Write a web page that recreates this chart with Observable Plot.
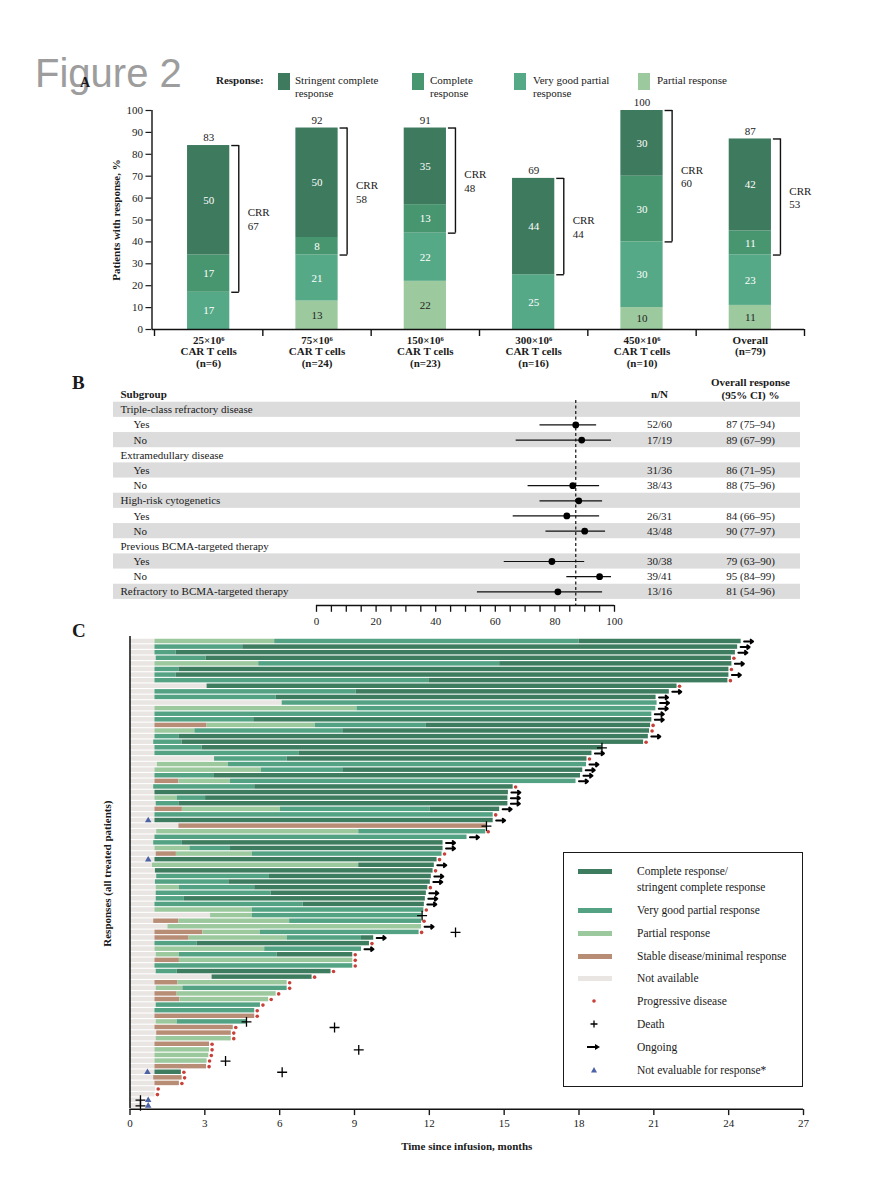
<!DOCTYPE html>
<html><head><meta charset="utf-8">
<script src="https://cdn.jsdelivr.net/npm/d3@7"></script>
<script src="https://cdn.jsdelivr.net/npm/@observablehq/plot@0.6"></script>
<style>
body{margin:0;background:#fff;}
#page{position:relative;width:886px;height:1200px;font-family:"Liberation Serif",serif;color:#1a1a1a;overflow:hidden;}
.abs{position:absolute;white-space:nowrap;}
.sw{position:absolute;}
.lg{position:absolute;font-size:11px;line-height:13px;white-space:nowrap;}
.lc{position:absolute;font-size:11.5px;white-space:nowrap;line-height:14px;}
</style></head><body><div id="page"></div>
<script>
// ---------------- Panel A data ----------------
const doseGroups = ["25×10⁶\nCAR T cells\n(n=6)","75×10⁶\nCAR T cells\n(n=24)","150×10⁶\nCAR T cells\n(n=23)","300×10⁶\nCAR T cells\n(n=16)","450×10⁶\nCAR T cells\n(n=10)","Overall\n(n=79)"];
const responseKeys = ["PR","VGPR","CR","sCR"];
const responseNames = ["Partial response","Very good partial response","Complete response","Stringent complete response"];
const prPct   = [0,13,22,0,10,11];
const vgprPct = [17,21,22,25,30,23];
const crPct   = [17,8,13,0,30,11];
const scrPct  = [50,50,35,44,30,42];
const totalPct = [83,92,91,69,100,87];
const crrPct  = [67,58,48,44,60,53];
const colorA = {PR:"#9dc99e", VGPR:"#55a987", CR:"#47966f", sCR:"#3d7a5e"};

// ---------------- Panel B data ----------------
const subgroupLabels = ["Triple-class refractory disease","Yes","No","Extramedullary disease","Yes","No","High-risk cytogenetics","Yes","No","Previous BCMA-targeted therapy","Yes","No","Refractory to BCMA-targeted therapy"];
const subgroupIsHeader = [1,0,0,1,0,0,1,0,0,1,0,0,1];
const nOverN = ["","52/60","17/19","","31/36","38/43","","26/31","43/48","","30/38","39/41","13/16"];
const orText = ["","87 (75–94)","89 (67–99)","","86 (71–95)","88 (75–96)","","84 (66–95)","90 (77–97)","","79 (63–90)","95 (84–99)","81 (54–96)"];
// estimates as drawn in the figure (row index where each point appears)
const estRow = [1,2,5,6,7,8,10,11,12];
const estVal = [87,89,86,88,84,90,79,95,81];
const ciLow  = [75,67,71,75,66,77,63,84,54];
const ciHigh = [94,99,95,96,95,97,90,99,96];
const overallORR = 87;
const forestTicks = d3.range(0,101,5);
const forestLabels = [0,20,40,60,80,100];

// ---------------- Panel C data ----------------
// each row: status, cumulative end (months), status, end, ...
const swimmer = [
["NA",1.0,"PR",5.8,"VGPR",18.0,"CR",24.5],
["NA",1.0,"VGPR",4.52,"CR",24.36],
["NA",1.0,"VGPR",1.85,"CR",24.27],
["NA",1.05,"VGPR",3.05,"CR",24.11],
["NA",1.0,"PR",5.16,"VGPR",14.82,"CR",24.13],
["NA",1.0,"VGPR",1.96,"CR",24.01],
["NA",1.0,"VGPR",1.85,"CR",24.01],
["NA",1.0,"VGPR",11.98,"CR",23.97],
["NA",3.09,"CR",21.93],
["NA",1.0,"VGPR",9.07,"CR",21.62],
["NA",1.0,"VGPR",5.86,"CR",21.09],
["NA",6.1,"VGPR",21.13],
["NA",1.0,"PR",9.1,"VGPR",21.08],
["NA",1.0,"VGPR",20.92],
["NA",1.0,"VGPR",4.96,"CR",20.92],
["NA",1.0,"SD",3.09,"PR",7.43,"VGPR",11.88,"CR",20.87],
["NA",1.0,"PR",2.6,"VGPR",8.53,"CR",20.83],
["NA",1.0,"VGPR",1.96,"CR",20.78],
["NA",0.95,"VGPR",2.09,"CR",20.59],
["NA",1.0,"VGPR",2.89,"CR",18.92],
["NA",1.0,"VGPR",6.77,"CR",18.52],
["NA",3.39,"VGPR",6.3,"CR",18.32],
["NA",1.1,"PR",3.94,"VGPR",18.3],
["NA",1.0,"PR",5.26,"VGPR",8.53,"CR",18.15],
["NA",1.0,"VGPR",3.36,"CR",18.06],
["NA",1.0,"SD",1.96,"PR",4.03,"VGPR",17.88],
["NA",0.95,"VGPR",5.0,"CR",15.36],
["NA",1.0,"CR",15.17],
["NA",1.0,"PR",1.89,"VGPR",3.03,"CR",15.15],
["NA",1.05,"VGPR",1.96,"CR",15.15],
["NA",1.0,"SD",2.1,"PR",6.03,"VGPR",12.04,"CR",14.82],
["NA",1.0,"VGPR",14.56],
["NA",1.0,"CR",14.56],
["NA",1.96,"SD",14.29],
["NA",1.07,"PR",9.17,"VGPR",14.26],
["NA",1.0,"VGPR",13.51],
["NA",0.95,"VGPR",2.1,"CR",12.55],
["NA",1.0,"PR",2.4,"VGPR",4.03,"CR",12.55],
["NA",1.05,"SD",1.86,"PR",4.9,"VGPR",12.51],
["NA",1.0,"CR",12.31],
["NA",0.9,"PR",9.17,"CR",12.2],
["NA",1.02,"CR",12.15],
["NA",1.07,"VGPR",5.59,"CR",12.08],
["NA",1.02,"VGPR",3.96,"CR",12.04],
["NA",1.05,"PR",1.98,"VGPR",5.0,"CR",11.94],
["NA",1.05,"VGPR",5.66,"CR",11.88],
["NA",1.05,"VGPR",2.18,"CR",11.84],
["NA",1.0,"VGPR",6.94,"CR",11.8],
["NA",1.0,"PR",4.9,"VGPR",11.78],
["NA",3.23,"PR",4.9,"VGPR",11.71],
["NA",0.95,"SD",1.96,"PR",6.4,"VGPR",11.69],
["NA",1.52,"PR",11.69],
["NA",1.0,"SD",2.92,"PR",5.23,"VGPR",11.59],
["NA",1.0,"SD",2.37,"PR",6.3,"VGPR",9.28,"CR",9.77],
["NA",1.0,"VGPR",2.69,"CR",9.6],
["NA",1.0,"PR",5.4,"VGPR",9.28],
["NA",1.05,"PR",1.98,"VGPR",5.9,"CR",8.93],
["NA",1.0,"SD",1.98,"PR",8.93],
["NA",1.0,"VGPR",8.93],
["NA",1.05,"VGPR",1.89,"CR",8.06],
["NA",3.29,"CR",7.3],
["NA",1.0,"SD",1.92,"PR",6.3],
["NA",1.05,"PR",2.12,"VGPR",6.3],
["NA",1.0,"SD",1.89,"PR",5.86],
["NA",1.0,"SD",2.0,"PR",5.56],
["NA",1.05,"VGPR",5.23],
["NA",1.0,"VGPR",5.0],
["NA",1.0,"SD",5.0],
["NA",1.05,"PR",1.89,"VGPR",4.67],
["NA",1.0,"SD",4.14],
["NA",1.07,"SD",4.06],
["NA",1.05,"PR",4.06],
["NA",1.0,"SD",3.19],
["NA",1.0,"PR",3.19],
["NA",1.0,"PR",3.16],
["NA",1.0,"PR",3.09],
["NA",1.0,"SD",3.07],
["NA",1.0,"CR",2.06],
["NA",0.95,"SD",2.09],
["NA",1.0,"SD",1.98],
["NA",1.03],
["NA",1.0],
["NA",0.45],
["NA",0.45]
];
// end-of-bar marker per row: ON ongoing, PD progressive disease, D death, "" none
const endMarker = ["ON","ON","ON","PD","ON","PD","ON","PD","PD","ON","ON","ON","ON","ON","ON","PD","PD","ON","PD","D",
"ON","PD","ON","ON","ON","ON","PD","ON","ON","ON","ON","PD","ON","D","PD","ON","ON","ON","PD","PD",
"ON","PD","ON","ON","PD","ON","ON","ON","PD","D","PD","ON","PD","ON","PD","ON","PD","PD","PD","PD",
"PD","PD","PD","PD","PD","PD","PD","PD","D","PD","PD","PD","PD","PD","PD","PD","PD","PD","PD","PD",
"PD","PD","",""];
const deathRows  = [52,69,73,75,77,82,83];
const deathTimes = [13.05,8.2,9.17,3.83,6.1,0.42,0.42];
const neRows  = [32,39,77,82,83];
const neTimes = [0.73,0.73,0.7,0.73,0.73];
const colorC = {CR:"#3e7c5f", VGPR:"#52a283", PR:"#9cc89e", SD:"#b78d76", NA:"#e8e5e2"};
const monthTicks = d3.range(0,28,3);

const page = document.getElementById("page");
function addHTML(html){ page.insertAdjacentHTML("beforeend", html); }
const baseStyle = {fontFamily:"Liberation Serif, serif", fontSize:"11px", color:"#1a1a1a", background:"none", overflow:"visible"};

// ---------------- Panel A ----------------
const pctArrays = {PR:prPct, VGPR:vgprPct, CR:crPct, sCR:scrPct};
const segsA = [];
doseGroups.forEach((g,i)=>{
  let acc = 0;
  responseKeys.forEach(k=>{
    const v = pctArrays[k][i];
    segsA.push({g:i, key:k, value:v, y1:acc, y2:acc+v});
    acc += v;
  });
});
const topsA = doseGroups.map((g,i)=>({g:i, top: responseKeys.reduce((s,k)=>s+pctArrays[k][i],0), label: totalPct[i], crr: crrPct[i]}));
const brA = topsA.map(d=>({g:d.g, hi:d.top, lo:d.top-d.crr, crr:d.crr}));

const plotA = Plot.plot({
  width:886, height:280, marginLeft:154, marginRight:82, marginTop:20, marginBottom:41,
  style: baseStyle,
  x:{domain:[0,6], axis:null},
  y:{domain:[0,100]},
  marks:[
    Plot.rect(segsA.filter(d=>d.value>0), {x1:d=>d.g+0.305, x2:d=>d.g+0.695, y1:"y1", y2:"y2", fill:d=>colorA[d.key]}),
    Plot.text(segsA.filter(d=>d.value>0), {x:d=>d.g+0.5, y:d=>(d.y1+d.y2)/2, text:d=>String(d.value), fill:d=>d.key==="PR"?"#222":"#fff", fontSize:11}),
    Plot.text(topsA, {x:d=>d.g+0.5, y:"top", dy:-8, text:d=>String(d.label), fontSize:11}),
    Plot.ruleX(brA, {x:d=>d.g+0.778, y1:"lo", y2:"hi", stroke:"#111", strokeWidth:1.4}),
    Plot.ruleY(brA, {x1:d=>d.g+0.713, x2:d=>d.g+0.783, y:"hi", stroke:"#111", strokeWidth:1.4}),
    Plot.ruleY(brA, {x1:d=>d.g+0.713, x2:d=>d.g+0.783, y:"lo", stroke:"#111", strokeWidth:1.4}),
    Plot.text(brA, {x:d=>d.g+0.86, y:d=>(d.lo+d.hi)/2, text:d=>"CRR\n"+d.crr, textAnchor:"start", lineHeight:1.25, fontSize:11}),
    Plot.ruleX([0], {y1:0, y2:100, dx:-2.5, stroke:"#111", strokeWidth:1.4}),
    Plot.axisY({ticks:d3.range(0,101,10), tickSize:6, tickPadding:3, dx:-2.5, label:null, fontSize:11, strokeWidth:1.2}),
    Plot.ruleY([0], {x1:-0.02, x2:6, stroke:"#111", strokeWidth:1.6}),
    Plot.ruleX(d3.range(0,7), {x:d=>d, y1:0, y2:-3.2, stroke:"#111", strokeWidth:1.4}),
    Plot.text(doseGroups, {x:(d,i)=>i+0.5, y:()=>0, dy:6, lineAnchor:"top", lineHeight:1.05, fontWeight:"bold", fontSize:11}),
    Plot.text(["Patients with response, %"], {frameAnchor:"left", dx:-38, rotate:-90, textAnchor:"middle", fontWeight:"bold", fontSize:11})
  ]
});
plotA.style.position="absolute"; plotA.style.left="0px"; plotA.style.top="90px";
page.appendChild(plotA);

// title + legend A
addHTML(`<div class="abs" style="left:35px;top:50px;font-family:'Liberation Sans',Arial,sans-serif;font-size:40px;color:#9d9d9d;line-height:46px;">Figure 2</div>`);
addHTML(`<div class="abs" style="left:80px;top:75px;font-size:14px;font-weight:bold;">A</div>`);
addHTML(`<div class="lg" style="left:216px;top:74px;font-weight:bold;">Response:</div>`);
const legA = [["sCR",278,295,"Stringent complete<br>response"],["CR",412,430,"Complete<br>response"],["VGPR",514,533,"Very good partial<br>response"],["PR",638,657,"Partial response"]];
legA.forEach(([k,sx,tx,t])=>{
  addHTML(`<div class="sw" style="left:${sx}px;top:73px;width:12px;height:17px;background:${colorA[k]};"></div>`);
  addHTML(`<div class="lg" style="left:${tx}px;top:74px;">${t}</div>`);
});

// ---------------- Panel B ----------------
const rowsB = subgroupLabels.map((label,i)=>({i, label, header:subgroupIsHeader[i], nN:nOverN[i], or:orText[i]}));
const forest = estRow.map((r,k)=>({row:r, est:estVal[k], lo:ciLow[k], hi:ciHigh[k]}));
const plotB = Plot.plot({
  width:886, height:260, marginLeft:113, marginRight:86, marginTop:31.7, marginBottom:31.1,
  style: baseStyle,
  x:{domain:[0,100], range:[316,614], axis:null},
  y:{domain:[-0.5,12.5], reverse:true, axis:null},
  marks:[
    Plot.rect(rowsB.filter(d=>d.i%2===0), {y1:d=>d.i-0.5, y2:d=>d.i+0.5, fill:"#dcdcdc"}),
    Plot.text(rowsB.filter(d=>d.header), {y:"i", text:"label", frameAnchor:"left", dx:7, textAnchor:"start", fontSize:11}),
    Plot.text(rowsB.filter(d=>!d.header), {y:"i", text:"label", frameAnchor:"left", dx:20, textAnchor:"start", fontSize:11}),
    Plot.text(rowsB, {y:"i", text:"nN", frameAnchor:"right", dx:-141, textAnchor:"middle", fontSize:11}),
    Plot.text(rowsB, {y:"i", text:"or", frameAnchor:"right", dx:-50, textAnchor:"middle", fontSize:11}),
    Plot.ruleX([overallORR], {y1:-0.62, y2:12.9, stroke:"#111", strokeDasharray:"3,2.5", strokeWidth:1.2}),
    Plot.ruleY(forest, {x1:"lo", x2:"hi", y:"row", stroke:"#111", strokeWidth:1.2}),
    Plot.dot(forest, {x:"est", y:"row", r:3.4, fill:"#000"}),
    Plot.ruleY([12.9], {x1:0, x2:100, stroke:"#111", strokeWidth:1.6}),
    Plot.ruleX(forestTicks, {x:d=>d, y1:12.9, y2:13.35, stroke:"#111", strokeWidth:1.3}),
    Plot.text(forestLabels, {x:d=>d, y:()=>13.95, text:d=>String(d), fontSize:11}),
    Plot.text(["Subgroup"], {y:()=>-1, frameAnchor:"left", dx:7, textAnchor:"start", fontWeight:"bold", fontSize:11}),
    Plot.text(["n/N"], {y:()=>-1, frameAnchor:"right", dx:-141, textAnchor:"middle", fontWeight:"bold", fontSize:11}),
    Plot.text(["Overall response\n(95% CI) %"], {y:()=>-1, frameAnchor:"right", dx:-50, dy:-6.5, textAnchor:"middle", lineHeight:1.2, fontWeight:"bold", fontSize:11})
  ]
});
plotB.style.position="absolute"; plotB.style.left="0px"; plotB.style.top="370px";
page.appendChild(plotB);
addHTML(`<div class="abs" style="left:72px;top:372px;font-size:19px;font-weight:bold;">B</div>`);

// ---------------- Panel C ----------------
const segsC = [];
swimmer.forEach((r,row)=>{ let s=0; for(let k=0;k<r.length;k+=2){ segsC.push({row, status:r[k], start:s, end:r[k+1]}); s=r[k+1]; } });
const endsC = swimmer.map((r,row)=>({row, end:r[r.length-1], m:endMarker[row]}));
const deathsC = endsC.filter(d=>d.m==="D").map(d=>({row:d.row, t:d.end})).concat(deathRows.map((r,k)=>({row:r, t:deathTimes[k]})));
const neC = neRows.map((r,k)=>({row:r, t:neTimes[k]}));
const plotC = Plot.plot({
  width:886, height:530, marginLeft:129.5, marginRight:83, marginTop:8.2, marginBottom:51.9,
  style: baseStyle,
  x:{domain:[0,27], axis:null},
  y:{domain:[-0.5,83.5], reverse:true, axis:null},
  marks:[
    Plot.rect(segsC, {x1:"start", x2:"end", y1:d=>d.row-0.4, y2:d=>d.row+0.4, fill:d=>colorC[d.status]}),
    Plot.dot(endsC.filter(d=>d.m==="PD"), {x:d=>d.end+0.1, y:"row", r:1.8, fill:"#c9403a"}),
    Plot.arrow(endsC.filter(d=>d.m==="ON"), {x1:d=>d.end+0.12, x2:d=>d.end+0.48, y1:"row", y2:"row", stroke:"#000", strokeWidth:2, headLength:4.5, headAngle:75}),
    Plot.dot(deathsC, {x:"t", y:"row", symbol:"plus", r:3.3, stroke:"#000", strokeWidth:1.3}),
    Plot.dot(neC, {x:"t", y:"row", symbol:"triangle", r:2.4, fill:"#4b63a6"}),
    Plot.ruleX([0], {y1:-0.9, y2:83.5, stroke:"#111", strokeWidth:1.5}),
    Plot.ruleY([83.6], {stroke:"#111", strokeWidth:1.5}),
    Plot.axisX({ticks:monthTicks, tickSize:6, tickPadding:4, dy:1, label:null, fontSize:11, strokeWidth:1.4}),
    Plot.text(["Time since infusion, months"], {frameAnchor:"bottom", dy:41, fontWeight:"bold", fontSize:11}),
    Plot.text(["Responses (all treated patients)"], {frameAnchor:"left", dx:-23, rotate:-90, textAnchor:"middle", fontWeight:"bold", fontSize:11})
  ]
});
plotC.style.position="absolute"; plotC.style.left="0px"; plotC.style.top="630px";
page.appendChild(plotC);
addHTML(`<div class="abs" style="left:72px;top:620px;font-size:19px;font-weight:bold;">C</div>`);

// legend C
const legC = [
  ["bar",colorC.CR,871,"Complete response/"],
  ["none",null,887,"stringent complete response"],
  ["bar",colorC.VGPR,910,"Very good partial response"],
  ["bar",colorC.PR,933,"Partial response"],
  ["bar",colorC.SD,956,"Stable disease/minimal response"],
  ["bar",colorC.NA,978,"Not available"],
  ["pd",null,1001,"Progressive disease"],
  ["death",null,1024,"Death"],
  ["arrow",null,1047,"Ongoing"],
  ["ne",null,1070,"Not evaluable for response*"]
];
addHTML(`<div class="abs" style="left:563px;top:852px;width:238px;height:233px;border:1.5px solid #1a1a1a;"></div>`);
legC.forEach(([type,col,y,t])=>{
  let sym = "";
  if(type==="bar") sym = `<div class="sw" style="left:578px;top:${y-2.5}px;width:34px;height:5px;background:${col};"></div>`;
  if(type==="pd") sym = `<svg class="sw" style="left:590px;top:${y-4}px" width="8" height="8"><circle cx="4" cy="4" r="1.8" fill="#c9403a"/></svg>`;
  if(type==="death") sym = `<svg class="sw" style="left:589px;top:${y-5}px" width="10" height="10"><path d="M5,1.5V8.5M1.5,5H8.5" stroke="#000" stroke-width="1.3"/></svg>`;
  if(type==="arrow") sym = `<svg class="sw" style="left:587px;top:${y-5}px" width="14" height="10"><path d="M0,5H9" stroke="#000" stroke-width="2"/><path d="M8,2L13,5L8,8Z" fill="#000"/></svg>`;
  if(type==="ne") sym = `<svg class="sw" style="left:589px;top:${y-5}px" width="10" height="10"><path d="M5,2L8,7.5H2Z" fill="#4b63a6"/></svg>`;
  addHTML(sym);
  addHTML(`<div class="lc" style="left:637px;top:${y-7}px;">${t}</div>`);
});
</script></body></html>
